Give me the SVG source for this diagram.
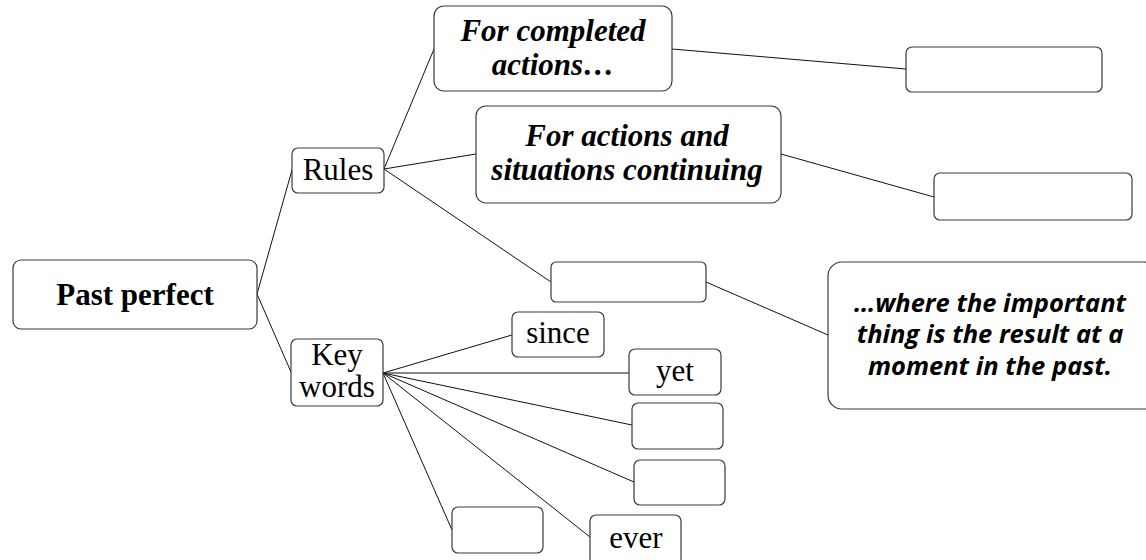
<svg xmlns="http://www.w3.org/2000/svg" width="1146" height="560" viewBox="0 0 1146 560">
<style>
.box{fill:#fff;stroke:#3a3a3a;stroke-width:1.2}
.ln{stroke:#111;stroke-width:1;fill:none}
.t{font-family:"Liberation Serif",serif;font-size:31px;fill:#000;text-anchor:middle}
.b{font-weight:bold}
.bi{font-weight:bold;font-style:italic;font-size:31px}
.s{font-family:"Open Sans","Noto Sans",sans-serif;font-weight:bold;font-style:italic;font-size:25.5px;fill:#000;text-anchor:middle}
</style>
<rect width="1146" height="560" fill="#fff"/>
<g id="connectors">
<line class="ln" x1="257" y1="294" x2="292" y2="170"/>
<line class="ln" x1="257" y1="294" x2="291" y2="372"/>
<line class="ln" x1="384" y1="169" x2="434" y2="49"/>
<line class="ln" x1="384" y1="169" x2="476" y2="154"/>
<line class="ln" x1="384" y1="169" x2="551" y2="282"/>
<line class="ln" x1="672" y1="49" x2="906" y2="69"/>
<line class="ln" x1="781" y1="154" x2="934" y2="197"/>
<line class="ln" x1="706" y1="282" x2="828" y2="335"/>
<line class="ln" x1="383" y1="373" x2="512" y2="335"/>
<line class="ln" x1="383" y1="373" x2="629" y2="373"/>
<line class="ln" x1="383" y1="373" x2="632" y2="425"/>
<line class="ln" x1="383" y1="373" x2="634" y2="482"/>
<line class="ln" x1="383" y1="373" x2="590" y2="537"/>
<line class="ln" x1="383" y1="373" x2="452" y2="530"/>
</g>
<g id="past-perfect"><rect class="box" x="13" y="260" width="244" height="69" rx="8"/><text class="t b" x="135" y="305" font-size="32">Past perfect</text></g>
<g id="rules"><rect class="box" x="292" y="148" width="92" height="45" rx="6"/><text class="t" x="338" y="180">Rules</text></g>
<g id="key-words"><rect class="box" x="291" y="339" width="92" height="67" rx="6"/><text class="t" x="337" y="365">Key</text><text class="t" x="337" y="397">words</text></g>
<g id="completed"><rect class="box" x="434" y="6" width="238" height="85" rx="10"/><text class="t bi" x="553" y="41">For completed</text><text class="t bi" x="553" y="75">actions…</text></g>
<g id="continuing"><rect class="box" x="476" y="106" width="305" height="97" rx="10"/><text class="t bi" x="627" y="146">For actions and</text><text class="t bi" x="627" y="180">situations continuing</text></g>
<g id="rule3"><rect class="box" x="551" y="262" width="155" height="40" rx="5"/></g>
<g id="blank-top"><rect class="box" x="906" y="47" width="196" height="45" rx="6"/></g>
<g id="blank-mid"><rect class="box" x="934" y="173" width="198" height="47" rx="6"/></g>
<g id="result"><rect class="box" x="828" y="262" width="330" height="147" rx="14"/><text class="s" x="990" y="312">…where the important</text><text class="s" x="990" y="343">thing is the result at a</text><text class="s" x="990" y="375">moment in the past.</text></g>
<g id="since"><rect class="box" x="512" y="312" width="92" height="45" rx="6"/><text class="t" x="558" y="343">since</text></g>
<g id="yet"><rect class="box" x="629" y="349" width="92" height="46" rx="6"/><text class="t" x="675" y="381">yet</text></g>
<g id="kw-blank1"><rect class="box" x="632" y="403" width="91" height="46" rx="6"/></g>
<g id="kw-blank2"><rect class="box" x="634" y="460" width="91" height="45" rx="6"/></g>
<g id="ever"><rect class="box" x="590" y="515" width="91" height="50" rx="6"/><text class="t" x="636" y="548">ever</text></g>
<g id="kw-blank3"><rect class="box" x="452" y="507" width="91" height="46" rx="6"/></g>
</svg>
